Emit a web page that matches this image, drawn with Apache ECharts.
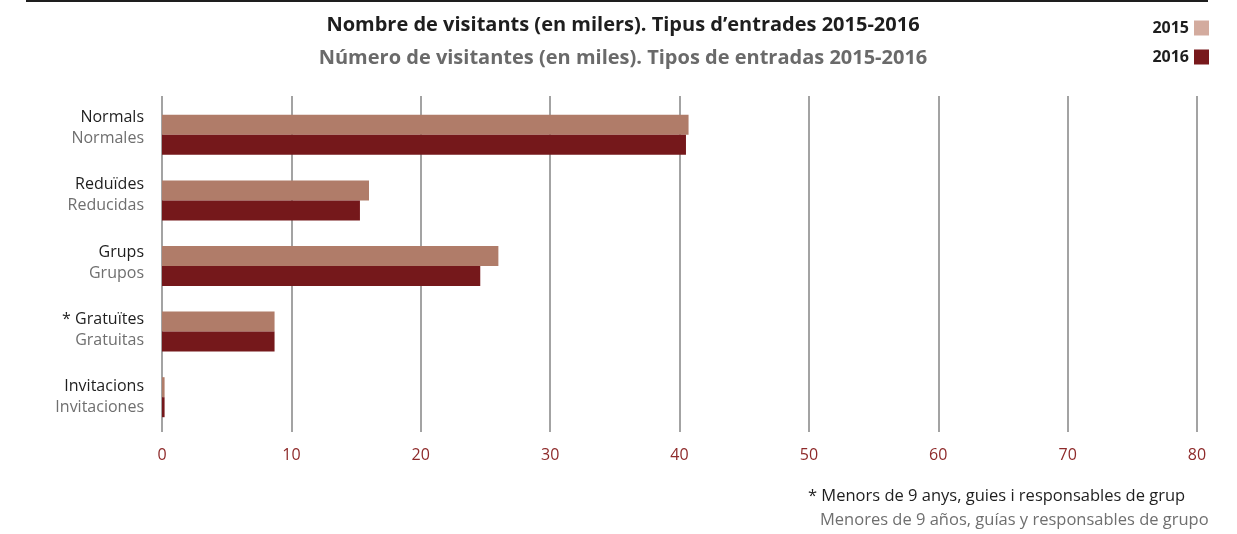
<!DOCTYPE html>
<html>
<head>
<meta charset="utf-8">
<script src="https://cdn.jsdelivr.net/npm/echarts@6/dist/echarts.min.js"></script>
<style>
  html, body { margin: 0; padding: 0; background: #fff; }
  #chart { width: 1237px; height: 534px; }
</style>
</head>
<body>
<div id="chart"></div>
<script>
// categories (Catalan / Spanish)
var catsCa = ['Normals', 'Reduïdes', 'Grups', '* Gratuïtes', 'Invitacions'];
var catsEs = ['Normales', 'Reducidas', 'Grupos', 'Gratuitas', 'Invitaciones'];
// visitors in thousands
var v2015 = [40.7, 16.0, 26.0, 8.7, 0.2];
var v2016 = [40.5, 15.3, 24.6, 8.7, 0.2];
var years = ['2015', '2016'];

var FONT = '"Open Sans", Roboto, sans-serif';
var cats = catsCa.map(function (c, i) { return c + '\n' + catsEs[i]; });

var chart = echarts.init(document.getElementById('chart'));
var option = {
  animation: false,
  textStyle: { fontFamily: FONT },
  title: {
    text: 'Nombre de visitants (en milers). Tipus d\u2019entrades 2015-2016',
    subtext: 'Número de visitantes (en miles). Tipos de entradas 2015-2016',
    left: 618, top: 10, textAlign: 'center', itemGap: 13,
    textStyle: { fontFamily: FONT, fontSize: 20, fontWeight: 'bold', color: '#1e1e1e' },
    subtextStyle: { fontFamily: FONT, fontSize: 20, fontWeight: 'bold', color: '#6a6a6a' }
  },
  legend: {
    orient: 'vertical', right: 23, top: 15, align: 'right', icon: 'rect',
    itemWidth: 15, itemHeight: 15, itemGap: 13,
    textStyle: { fontFamily: FONT, fontSize: 16, fontWeight: 'bold', color: '#1e1e1e' },
    data: [
      { name: years[0], itemStyle: { color: '#d3ab9e' } },
      { name: years[1], itemStyle: { color: '#78191c' } }
    ],
    selectedMode: false
  },
  grid: [
    { left: 162, right: 40, top: 96, bottom: 102 },
    { left: 162, right: 40, top: 102, bottom: 104 }
  ],
  xAxis: [
    {
      gridIndex: 0, type: 'value', min: 0, max: 80, interval: 10,
      axisLine: { show: false }, axisTick: { show: false },
      splitLine: { show: true, lineStyle: { color: '#858585', width: 1.5 } },
      axisLabel: { color: '#8e2a2a', fontSize: 16, margin: 15, fontFamily: FONT }
    },
    {
      gridIndex: 1, type: 'value', min: 0, max: 80, interval: 10, show: false
    }
  ],
  yAxis: [
    {
      gridIndex: 0, type: 'category', data: cats, inverse: true,
      axisLine: { show: false }, axisTick: { show: false },
      axisLabel: {
        margin: 18, align: 'right', padding: [0, 0, 3, 0],
        formatter: function (v) {
          var p = v.split('\n');
          return '{a|' + p[0] + '}\n{b|' + p[1] + '}';
        },
        rich: {
          a: { fontFamily: FONT, fontSize: 16, color: '#1e1e1e', lineHeight: 21, align: 'right' },
          b: { fontFamily: FONT, fontSize: 16, color: '#6f6f6f', lineHeight: 21, align: 'right' }
        }
      }
    },
    { gridIndex: 1, type: 'category', data: cats, inverse: true, show: false }
  ],
  series: [
    {
      name: years[0], type: 'bar', xAxisIndex: 1, yAxisIndex: 1,
      data: v2015, barWidth: 20, barGap: '0%',
      itemStyle: { color: '#b07c69' }
    },
    {
      name: years[1], type: 'bar', xAxisIndex: 1, yAxisIndex: 1,
      data: v2016, barWidth: 20, barGap: '0%',
      itemStyle: { color: '#75181b' }
    }
  ],
  graphic: [
    { type: 'rect', shape: { x: 26, y: 0, width: 1182, height: 2 }, style: { fill: '#1e1e1e' } },
    {
      type: 'text', left: 808, top: 488,
      style: { text: '* Menors de 9 anys, guies i responsables de grup', font: '16.5px ' + FONT, fill: '#1e1e1e' }
    },
    {
      type: 'text', left: 820, top: 512,
      style: { text: 'Menores de 9 años, guías y responsables de grupo', font: '16.5px ' + FONT, fill: '#6f6f6f' }
    }
  ]
};
chart.setOption(option);
</script>
</body>
</html>
